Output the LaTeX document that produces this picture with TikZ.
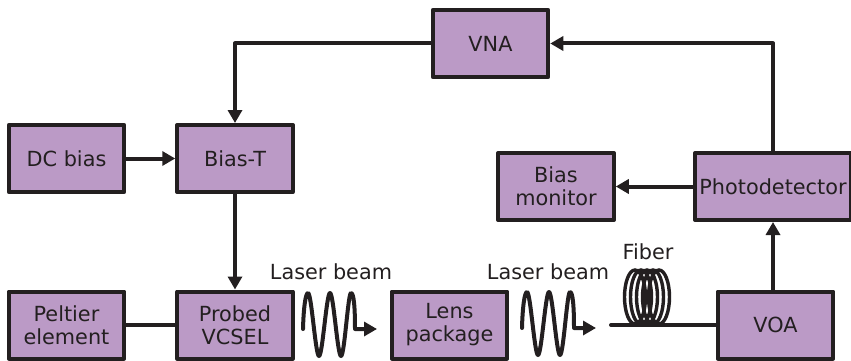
\documentclass[tikz,border=0pt]{standalone}
\usepackage{fontspec}
\setmainfont{DejaVu Sans}
\usetikzlibrary{arrows.meta}
\definecolor{boxfill}{HTML}{BB9AC6}
\definecolor{ink}{HTML}{231F20}
\tikzset{
  x=1pt,y=-1pt,
  blockbox/.style={draw=ink,fill=boxfill,line width=4pt,line join=round,rectangle,outer sep=0pt,inner sep=0pt,
    minimum width=115.5pt,minimum height=67pt,align=center,text=ink,font=\fontsize{20.8}{23}\selectfont},
  label text/.style={text=ink,font=\fontsize{20.8}{23}\selectfont,inner sep=0pt},
  conn/.style={draw=ink,line width=4pt,line join=round},
  arrowconn/.style={conn,-{Triangle[length=13pt,width=14pt]},shorten >=2pt},
  tipline/.style={draw=ink,line width=4pt,line join=round,line cap=round,-{Triangle[length=13pt,width=14pt]}},
  coil/.style={draw=ink,line width=3.4pt},
}
\newcommand{\beamwave}[2]{%
  \draw[tipline,shift={(#1,#2)}] (0,0) .. controls (0.5,-20) and (2.5,-36) .. (5,-36)
    .. controls (8.5,-36) and (12.5,27) .. (16,27)
    .. controls (19.5,27) and (23.5,-36) .. (27,-36)
    .. controls (30.5,-36) and (34.5,27) .. (38,27)
    .. controls (41.5,27) and (45,-36) .. (48,-36)
    .. controls (51,-36) and (52,-20) .. (52,0) -- (74,0);
}
\begin{document}
\begin{tikzpicture}
\useasboundingbox (0,0) rectangle (851,361);
\node[blockbox] (vna) at (490.5,43.5) {VNA};
\node[blockbox] (dc) at (66.5,158.5) {DC bias};
\node[blockbox] (biast) at (235,158.5) {Bias-T};
\node[blockbox] (mon) at (556,186.5) {Bias\\monitor};
\node[blockbox,minimum width=156pt] (pd) at (773,186.5) {Photodetector};
\node[blockbox] (pel) at (66.5,325) {Peltier\\element};
\node[blockbox] (vcsel) at (235,325) {Probed\\VCSEL};
\node[blockbox] (lens) at (449.5,325) {Lens\\package};
\node[blockbox] (voa) at (775.5,325) {VOA};
\node[label text] (lb1) at (331,272) {Laser beam};
\node[label text] (lb2) at (548,272) {Laser beam};
\node[label text] (fib) at (648,252) {Fiber};
\coordinate (fstart) at (611,325);
\foreach \cx in {635,641,647,653,659}
  \draw[coil] (\cx,297) ellipse [x radius=10.5,y radius=27];
\draw[conn,line cap=round] (fstart) -- (voa.west);
\draw[arrowconn] (vna.west) -| (biast.north);
\draw[arrowconn] (pd.north) |- (vna.east);
\draw[arrowconn] (dc.east) -- (biast.west);
\draw[arrowconn] (biast.south) -- (vcsel.north);
\draw[conn] (pel.east) -- (vcsel.west);
\draw[arrowconn] (pd.west) -- (mon.east);
\draw[arrowconn] (voa.north -| pd.north) -- (pd.south);
\beamwave{303}{329}
\beamwave{522}{328}
\end{tikzpicture}
\end{document}
